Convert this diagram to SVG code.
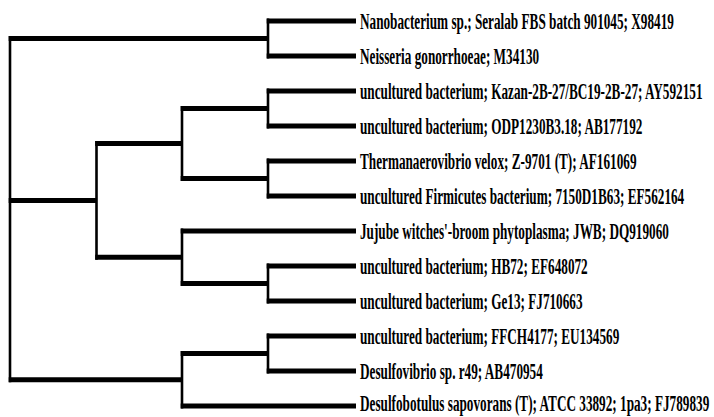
<svg xmlns="http://www.w3.org/2000/svg" width="714" height="417" viewBox="0 0 714 417">
<style>
.h{stroke:#000;stroke-width:5;fill:none;stroke-linecap:butt}
.v{stroke:#000;stroke-width:2.6;fill:none;stroke-linecap:butt}
.lbl{font-family:"Liberation Serif","Times New Roman",serif;font-weight:bold;font-size:23.5px;fill:#000}
</style>
<rect width="714" height="417" fill="#fff"/>
<g id="connectors">
<line class="v" x1="10" y1="36" x2="10" y2="382.25"/>
<line class="h" x1="8.7" y1="38.5" x2="268" y2="38.5"/>
<line class="h" x1="8.7" y1="200.4" x2="96.5" y2="200.4"/>
<line class="h" x1="8.7" y1="379.75" x2="182" y2="379.75"/>
<line class="v" x1="268" y1="18.5" x2="268" y2="58.5"/>
<line class="h" x1="266.7" y1="21" x2="356" y2="21"/>
<line class="h" x1="266.7" y1="56" x2="356" y2="56"/>
<line class="v" x1="96.5" y1="141" x2="96.5" y2="259.75"/>
<line class="h" x1="95.2" y1="143.5" x2="182" y2="143.5"/>
<line class="h" x1="95.2" y1="257.25" x2="182" y2="257.25"/>
<line class="v" x1="182" y1="106" x2="182" y2="181"/>
<line class="h" x1="180.7" y1="108.5" x2="268" y2="108.5"/>
<line class="h" x1="180.7" y1="178.5" x2="268" y2="178.5"/>
<line class="v" x1="268" y1="88.5" x2="268" y2="128.5"/>
<line class="h" x1="266.7" y1="91" x2="356" y2="91"/>
<line class="h" x1="266.7" y1="126" x2="356" y2="126"/>
<line class="v" x1="268" y1="158.5" x2="268" y2="198.5"/>
<line class="h" x1="266.7" y1="161" x2="356" y2="161"/>
<line class="h" x1="266.7" y1="196" x2="356" y2="196"/>
<line class="v" x1="182" y1="228.5" x2="182" y2="286"/>
<line class="h" x1="180.7" y1="231" x2="356" y2="231"/>
<line class="h" x1="180.7" y1="283.5" x2="268" y2="283.5"/>
<line class="v" x1="268" y1="263.5" x2="268" y2="303.5"/>
<line class="h" x1="266.7" y1="266" x2="356" y2="266"/>
<line class="h" x1="266.7" y1="301" x2="356" y2="301"/>
<line class="v" x1="182" y1="351" x2="182" y2="408.5"/>
<line class="h" x1="180.7" y1="353.5" x2="268" y2="353.5"/>
<line class="h" x1="180.7" y1="406" x2="356" y2="406"/>
<line class="v" x1="268" y1="333.5" x2="268" y2="373.5"/>
<line class="h" x1="266.7" y1="336" x2="356" y2="336"/>
<line class="h" x1="266.7" y1="371" x2="356" y2="371"/>
</g>
<g id="leaf1"><text class="lbl" transform="translate(360,28.6) scale(0.563,1)">Nanobacterium sp.; Seralab FBS batch 901045; X98419</text></g>
<g id="leaf2"><text class="lbl" transform="translate(360,63.6) scale(0.563,1)">Neisseria gonorrhoeae; M34130</text></g>
<g id="leaf3"><text class="lbl" transform="translate(360,98.6) scale(0.563,1)">uncultured bacterium; Kazan-2B-27/BC19-2B-27; AY592151</text></g>
<g id="leaf4"><text class="lbl" transform="translate(360,133.6) scale(0.563,1)">uncultured bacterium; ODP1230B3.18; AB177192</text></g>
<g id="leaf5"><text class="lbl" transform="translate(360,168.6) scale(0.563,1)">Thermanaerovibrio velox; Z-9701 (T); AF161069</text></g>
<g id="leaf6"><text class="lbl" transform="translate(360,203.6) scale(0.563,1)">uncultured Firmicutes bacterium; 7150D1B63; EF562164</text></g>
<g id="leaf7"><text class="lbl" transform="translate(360,238.6) scale(0.563,1)">Jujube witches'-broom phytoplasma; JWB; DQ919060</text></g>
<g id="leaf8"><text class="lbl" transform="translate(360,273.6) scale(0.563,1)">uncultured bacterium; HB72; EF648072</text></g>
<g id="leaf9"><text class="lbl" transform="translate(360,308.6) scale(0.563,1)">uncultured bacterium; Ge13; FJ710663</text></g>
<g id="leaf10"><text class="lbl" transform="translate(360,343.6) scale(0.563,1)">uncultured bacterium; FFCH4177; EU134569</text></g>
<g id="leaf11"><text class="lbl" transform="translate(360,378.6) scale(0.563,1)">Desulfovibrio sp. r49; AB470954</text></g>
<g id="leaf12"><text class="lbl" transform="translate(360,411.2) scale(0.563,1)">Desulfobotulus sapovorans (T); ATCC 33892; 1pa3; FJ789839</text></g>
</svg>
